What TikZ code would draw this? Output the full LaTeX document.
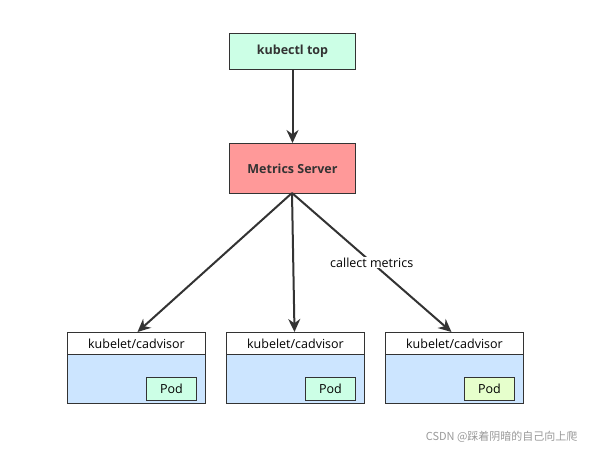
\documentclass[tikz,border=0pt]{standalone}
\usepackage{fontspec}
\setmainfont{Open Sans}
\newfontfamily\cjkfont{Noto Sans CJK SC}
\usetikzlibrary{arrows.meta}
\definecolor{lgreen}{HTML}{CCFFE6}
\definecolor{lred}{HTML}{FF9999}
\definecolor{lblue}{HTML}{CCE5FF}
\definecolor{lyellow}{HTML}{E6FFCC}
\definecolor{dline}{HTML}{333333}
\begin{document}
\begin{tikzpicture}[x=1pt,y=-1pt,
  topbox/.style={draw=dline,line width=1pt,minimum width=126pt,anchor=north west,font=\fontsize{12.5}{14}\selectfont\bfseries,text=dline,inner sep=0pt},
  hdr/.style={draw=dline,line width=1pt,fill=white,minimum width=138pt,minimum height=22pt,anchor=north west,inner sep=0pt,font=\fontsize{12.5}{14}\selectfont},
  bodybox/.style={draw=dline,line width=1pt,fill=lblue,minimum width=138pt,minimum height=49pt,anchor=north west,inner sep=0pt},
  podbox/.style={draw=dline,line width=1pt,minimum width=50pt,minimum height=23pt,anchor=north west,inner sep=0pt,font=\fontsize{12.5}{14}\selectfont},
  conn/.style={draw=dline,line width=2pt,-{Stealth[length=13pt,width=12pt]}}]
\useasboundingbox (0,0) rectangle (595,453);
\node[topbox,fill=lgreen,minimum height=36pt] (top) at (229,33) {kubectl top};
\node[topbox,fill=lred,minimum height=50pt] (ms) at (229,143) {Metrics Server};
\foreach \i/\x/\c in {1/67/lgreen,2/226/lgreen,3/385/lyellow}{
  \node[bodybox] (b\i) at (\x,354) {};
  \node[hdr] (h\i) at (\x,332) {kubelet/cadvisor};
  \node[podbox,fill=\c] (p\i) at (\x+79,377) {Pod};
}
\coordinate (msb) at (292,193);
\draw[conn] (top.south) -- (ms.north);
\draw[conn] (msb) -- ([xshift=1pt]h1.north);
\draw[conn] (msb) -- ([xshift=-1pt]h2.north);
\draw[conn] (msb) -- ([xshift=-3pt]h3.north) node[pos=0.5,fill=white,inner sep=1pt,font=\fontsize{12.5}{14}\selectfont] (lbl) {callect metrics};
\node[anchor=east,font=\cjkfont\fontsize{11}{13}\selectfont,text=black!40] (wm) at (581,437) {CSDN @踩着阴暗的自己向上爬};
\end{tikzpicture}
\end{document}
